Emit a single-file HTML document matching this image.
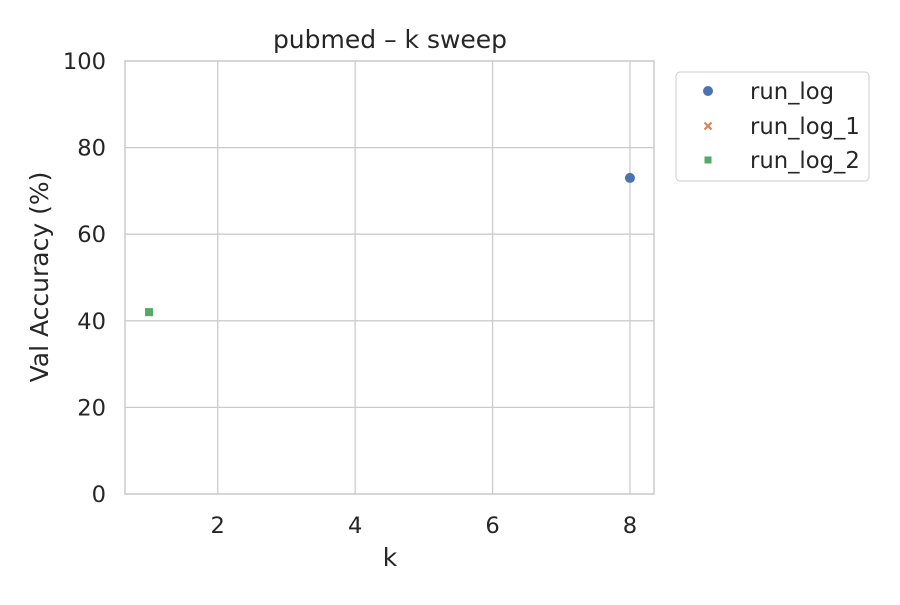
<!DOCTYPE html>
<html><head><meta charset="utf-8"><style>
body{margin:0;background:#fff;font-family:"Liberation Sans","DejaVu Sans",sans-serif}
svg text{font-family:"DejaVu Sans","Liberation Sans",sans-serif;fill:#262626;font-size:22px}
</style></head><body>
<svg id="c" width="900" height="600">
<rect width="900" height="600" fill="#fff"/>
<g id="grid"></g>
<rect x="125" y="61" width="529" height="433" fill="none" stroke="#cccccc" stroke-width="1.5"/>
<g id="marks"></g>
<text x="390" y="48" text-anchor="middle" style="font-size:25px">pubmed – k sweep</text>
<text x="390" y="566" text-anchor="middle" style="font-size:25px">k</text>
<text transform="translate(48,277) rotate(-90)" text-anchor="middle" style="font-size:25px">Val Accuracy (%)</text>
<g>
<rect x="676" y="72" width="193" height="109" rx="4" fill="#fff" stroke="#cccccc"/>
<circle cx="708" cy="91" r="5" fill="#4c72b0"/>
<text x="750" y="99" style="font-size:22.7px">run_log</text>
<path d="M704.5,122.5 L711.5,129.5 M711.5,122.5 L704.5,129.5" stroke="#dd8452" stroke-width="2.2"/>
<text x="750" y="134" style="font-size:22.7px">run_log_1</text>
<rect x="704.5" y="156.5" width="7" height="7" fill="#55a868"/>
<text x="750" y="168" style="font-size:22.7px">run_log_2</text>
</g>
</svg>
<script>
const xTicks=[2,4,6,8];
const yTicks=[0,20,40,60,80,100];
const runLogK=[8], runLogAcc=[73];
const runLog1K=[1], runLog1Acc=[42];
const runLog2K=[1], runLog2Acc=[42];
const X=v=>125+(v-0.65)/(8.35-0.65)*529;
const Y=v=>494-v/100*433;
const ns="http://www.w3.org/2000/svg";
const g=document.getElementById('grid'), m=document.getElementById('marks');
function mk(t,a,p){const e=document.createElementNS(ns,t);for(const k in a)e.setAttribute(k,a[k]);p.appendChild(e);return e;}
xTicks.forEach(v=>{
 const l=mk('line',{x1:X(v),x2:X(v),y1:61,y2:494,stroke:'#cccccc','stroke-width':1.3},g);
 
 
 const t=mk('text',{x:X(v),y:533,'text-anchor':'middle',style:'font-size:22.6px'},g);t.textContent=v;
 
 
});
yTicks.forEach(v=>{
 const l=mk('line',{x1:125,x2:654,y1:Y(v),y2:Y(v),stroke:'#cccccc','stroke-width':1.3},g);
 
 
 const t=mk('text',{x:106,y:Y(v)+8,'text-anchor':'end',style:'font-size:22.6px'},g);t.textContent=v;
 
 
});
runLogK.forEach((k,i)=>{
 const c=mk('circle',{cx:X(k),cy:Y(runLogAcc[i]),r:5,fill:'#4c72b0'},m);
 
 
});
runLog1K.forEach((k,i)=>{
 const x=X(k),y=Y(runLog1Acc[i]);
 const p=mk('path',{d:`M${x-3.5},${y-3.5}L${x+3.5},${y+3.5}M${x+3.5},${y-3.5}L${x-3.5},${y+3.5}`,stroke:'#dd8452','stroke-width':2.2},m);
 
 
});
runLog2K.forEach((k,i)=>{
 const r=mk('rect',{x:X(k)-4,y:Y(runLog2Acc[i])-4,width:8,height:8,fill:'#55a868'},m);
 
 
});
</script>
</body></html>
